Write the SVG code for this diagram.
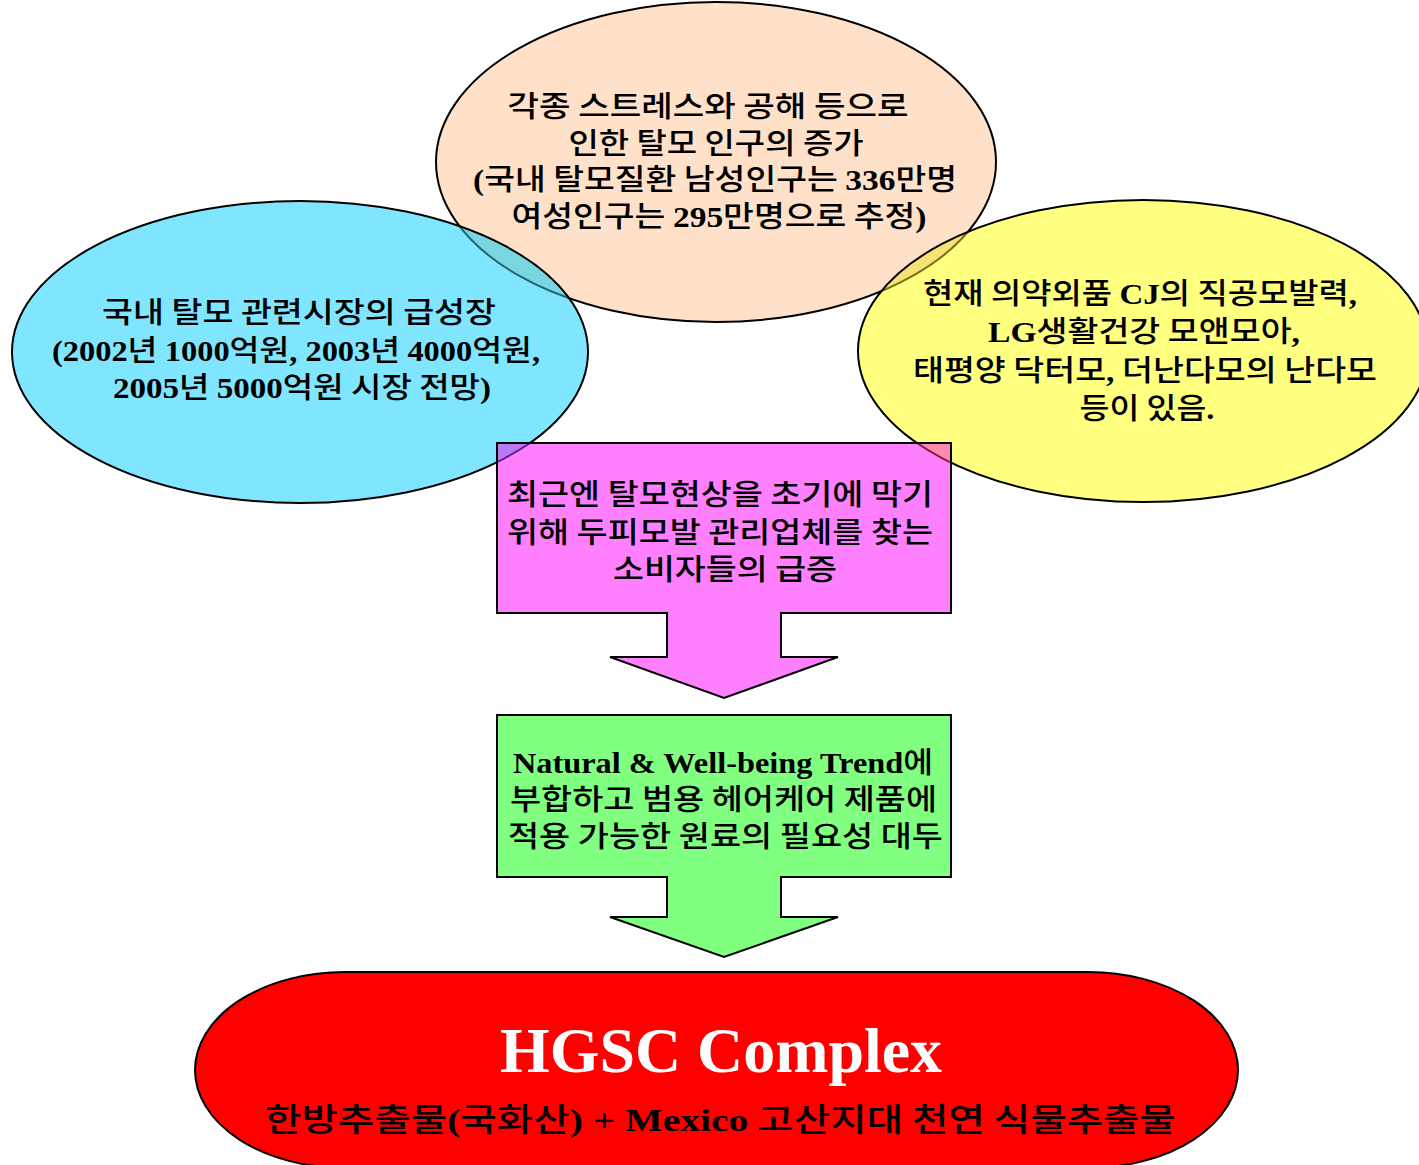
<svg xmlns="http://www.w3.org/2000/svg" width="1419" height="1165" viewBox="0 0 1419 1165">
<style>
.ko{font-family:"Noto Sans CJK KR","Noto Sans CJK SC",sans-serif;font-size:29px;font-weight:500;fill:#000;text-anchor:middle}
.en{font-family:"Liberation Serif","Times New Roman",serif;font-weight:bold}
.ln{stroke:#000;stroke-width:2;fill:none}
</style>
<defs>
<clipPath id="cBlue"><ellipse cx="300" cy="352" rx="288" ry="151"/></clipPath>
<clipPath id="cYel"><ellipse cx="1143" cy="351" rx="285" ry="151"/></clipPath>
<clipPath id="cPink"><polygon points="497,443 951,443 951,613 781,613 781,657 838,657 724,698 610,657 667,657 667,613 497,613"/></clipPath>
</defs>
<rect width="1419" height="1165" fill="#fff"/>

<g id="node-stress">
<ellipse cx="716" cy="162" rx="280" ry="160" fill="#FFE1CA" stroke="#000" stroke-width="2"/>
<text class="ko" x="708" y="117" textLength="401" lengthAdjust="spacingAndGlyphs">각종 스트레스와 공해 등으로</text>
<text class="ko" x="716" y="154" textLength="295" lengthAdjust="spacingAndGlyphs">인한 탈모 인구의 증가</text>
<text class="ko" x="715" y="190" textLength="484" lengthAdjust="spacingAndGlyphs"><tspan class="en">(</tspan>국내 탈모질환 남성인구는 <tspan class="en">336</tspan>만명</text>
<text class="ko" x="719" y="227" textLength="415" lengthAdjust="spacingAndGlyphs">여성인구는 <tspan class="en">295</tspan>만명으로 추정<tspan class="en">)</tspan></text>
</g>

<g id="node-market">
<ellipse cx="300" cy="352" rx="288" ry="151" fill="#80E5FF"/>
<ellipse cx="716" cy="162" rx="280" ry="160" fill="#79D5E0" clip-path="url(#cBlue)"/>
<ellipse cx="716" cy="162" rx="280" ry="160" fill="none" stroke="#1E6873" stroke-width="2" clip-path="url(#cBlue)"/>
<ellipse cx="300" cy="352" rx="288" ry="151" class="ln"/>
<text class="ko" x="299" y="323" textLength="394" lengthAdjust="spacingAndGlyphs">국내 탈모 관련시장의 급성장</text>
<text class="ko" x="296" y="361" textLength="488" lengthAdjust="spacingAndGlyphs"><tspan class="en">(2002</tspan>년 <tspan class="en">1000</tspan>억원<tspan class="en">, 2003</tspan>년 <tspan class="en">4000</tspan>억원<tspan class="en">,</tspan></text>
<text class="ko" x="302" y="398" textLength="378" lengthAdjust="spacingAndGlyphs"><tspan class="en">2005</tspan>년 <tspan class="en">5000</tspan>억원 시장 전망<tspan class="en">)</tspan></text>
</g>

<g id="node-competitors">
<ellipse cx="1143" cy="351" rx="285" ry="151" fill="#FFFF80"/>
<ellipse cx="716" cy="162" rx="280" ry="160" fill="#F7E373" clip-path="url(#cYel)"/>
<ellipse cx="716" cy="162" rx="280" ry="160" fill="none" stroke="#7A6E18" stroke-width="2" clip-path="url(#cYel)"/>
<ellipse cx="1143" cy="351" rx="285" ry="151" class="ln"/>
<text class="ko" x="1140" y="304" textLength="434" lengthAdjust="spacingAndGlyphs">현재 의약외품 <tspan class="en">CJ</tspan>의 직공모발력<tspan class="en">,</tspan></text>
<text class="ko" x="1144" y="342" textLength="312" lengthAdjust="spacingAndGlyphs"><tspan class="en">LG</tspan>생활건강 모앤모아<tspan class="en">,</tspan></text>
<text class="ko" x="1145" y="381" textLength="464" lengthAdjust="spacingAndGlyphs">태평양 닥터모<tspan class="en">,</tspan> 더난다모의 난다모</text>
<text class="ko" x="1147" y="419" textLength="135" lengthAdjust="spacingAndGlyphs">등이 있음<tspan class="en">.</tspan></text>
</g>

<g id="node-consumers">
<polygon points="497,443 951,443 951,613 781,613 781,657 838,657 724,698 610,657 667,657 667,613 497,613" fill="#FF80FF"/>
<ellipse cx="300" cy="352" rx="288" ry="151" fill="#BA7AF8" clip-path="url(#cPink)"/>
<ellipse cx="300" cy="352" rx="288" ry="151" fill="none" stroke="#6A1E8C" stroke-width="2" clip-path="url(#cPink)"/>
<ellipse cx="1143" cy="351" rx="285" ry="151" fill="#FF8AB0" clip-path="url(#cPink)"/>
<ellipse cx="1143" cy="351" rx="285" ry="151" fill="none" stroke="#80204A" stroke-width="2" clip-path="url(#cPink)"/>
<polygon points="497,443 951,443 951,613 781,613 781,657 838,657 724,698 610,657 667,657 667,613 497,613" class="ln"/>
<text class="ko" x="720" y="505" textLength="426" lengthAdjust="spacingAndGlyphs">최근엔 탈모현상을 초기에 막기</text>
<text class="ko" x="720" y="543" textLength="426" lengthAdjust="spacingAndGlyphs">위해 두피모발 관리업체를 찾는</text>
<text class="ko" x="725" y="580" textLength="224" lengthAdjust="spacingAndGlyphs">소비자들의 급증</text>
</g>

<g id="node-trend">
<polygon points="497,715 951,715 951,877 781,877 781,917 838,917 724,957 610,917 667,917 667,877 497,877" fill="#80FF80" stroke="#000" stroke-width="2"/>
<text class="ko" x="723" y="773" textLength="420" lengthAdjust="spacingAndGlyphs"><tspan class="en">Natural &amp; Well-being Trend</tspan>에</text>
<text class="ko" x="723.5" y="810" textLength="427" lengthAdjust="spacingAndGlyphs">부합하고 범용 헤어케어 제품에</text>
<text class="ko" x="725.5" y="847" textLength="435" lengthAdjust="spacingAndGlyphs">적용 가능한 원료의 필요성 대두</text>
</g>

<g id="node-hgsc">
<rect x="195" y="972" width="1043" height="196" rx="150" ry="98" fill="#FF0000" stroke="#000" stroke-width="2"/>
<text x="721" y="1072" text-anchor="middle" font-family="Liberation Serif, Times New Roman, serif" font-weight="bold" font-size="64" fill="#fff" textLength="442" lengthAdjust="spacingAndGlyphs">HGSC Complex</text>
<text class="ko" x="720.5" y="1131" style="font-size:32px" textLength="911" lengthAdjust="spacingAndGlyphs">한방추출물<tspan class="en">(</tspan>국화산<tspan class="en">) + Mexico</tspan> 고산지대 천연 식물추출물</text>
</g>

<g id="connectors"></g>
</svg>
